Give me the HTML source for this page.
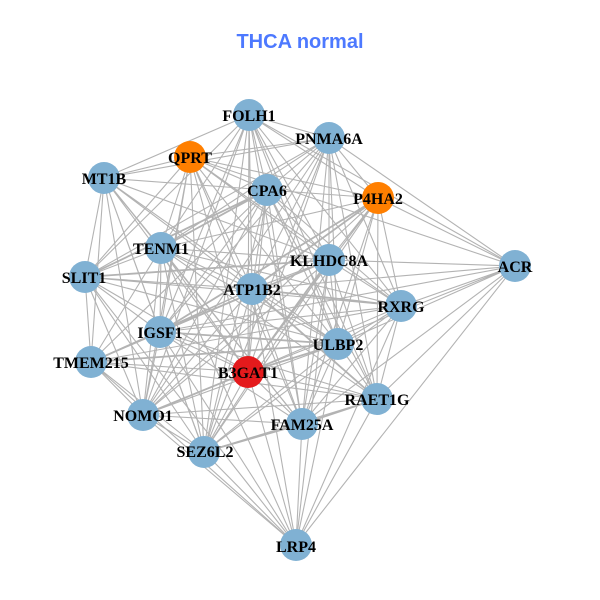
<!DOCTYPE html>
<html><head><meta charset="utf-8"><title>THCA normal</title>
<style>
html,body{margin:0;padding:0;background:#fff}
svg{display:block}
.l{font:bold 16px "Liberation Serif",serif;text-anchor:middle;fill:#000}
</style></head><body>
<svg width="600" height="600" viewBox="0 0 600 600" xmlns="http://www.w3.org/2000/svg">
<rect width="600" height="600" fill="#fff"/>
<text x="300" y="48" text-anchor="middle" style="font:bold 20px 'Liberation Sans',sans-serif;fill:#4d79ff">THCA normal</text>
<g fill="none" stroke="#b3b3b3" stroke-width="1.1">
<path d="M249 115L329 138L249 115L104 178L249 115L267 190L249 115L378 198L249 115L161 248L249 115L329 260L249 115L401 306L249 115L252 289L249 115L160 332L249 115L338 344L249 115L248 372L249 115L377 399L249 115L143 415L249 115L302 424L249 115L204 452L249 115L85 277L249 115L515 266"/>
<path d="M329 138L190 157L329 138L104 178L329 138L267 190L329 138L378 198L329 138L161 248L329 138L329 260L329 138L515 266L329 138L401 306L329 138L252 289L329 138L160 332L329 138L338 344L329 138L248 372L329 138L377 399L329 138L143 415L329 138L302 424L329 138L204 452L329 138L85 277"/>
<path d="M190 157L104 178L190 157L267 190L190 157L378 198L190 157L161 248L190 157L329 260L190 157L401 306L190 157L252 289L190 157L160 332L190 157L338 344L190 157L248 372L190 157L85 277L190 157L143 415L190 157L204 452L190 157L302 424L190 157L515 266"/>
<path d="M104 178L267 190L104 178L161 248L104 178L85 277L104 178L252 289L104 178L329 260L104 178L160 332L104 178L91 362L104 178L248 372L104 178L143 415L104 178L204 452L104 178L338 344L104 178L302 424"/>
<path d="M267 190L378 198L267 190L329 260L267 190L252 289L267 190L401 306L267 190L160 332L267 190L338 344L267 190L91 362L267 190L248 372L267 190L377 399L267 190L143 415L267 190L302 424L267 190L204 452"/>
<path d="M378 198L161 248L378 198L329 260L378 198L515 266L378 198L401 306L378 198L160 332L378 198L338 344L378 198L248 372L378 198L377 399L378 198L302 424L378 198L204 452L378 198L143 415"/>
<path d="M161 248L85 277L161 248L329 260L161 248L252 289L161 248L401 306L161 248L160 332L161 248L338 344L161 248L91 362L161 248L248 372L161 248L377 399L161 248L143 415L161 248L302 424L161 248L204 452L161 248L296 545"/>
<path d="M329 260L515 266L329 260L85 277L329 260L252 289L329 260L401 306L329 260L338 344L329 260L91 362L329 260L377 399L329 260L143 415L329 260L302 424L329 260L204 452L329 260L296 545"/>
<path d="M515 266L252 289L515 266L401 306L515 266L160 332L515 266L338 344L515 266L248 372L515 266L377 399L515 266L302 424L515 266L296 545"/>
<path d="M85 277L252 289L85 277L160 332L85 277L338 344L85 277L91 362L85 277L248 372L85 277L143 415L85 277L204 452L85 277L401 306L85 277L296 545"/>
<path d="M252 289L160 332L252 289L338 344L252 289L91 362L252 289L248 372L252 289L143 415L252 289L302 424L252 289L204 452L252 289L296 545"/>
<path d="M401 306L160 332L401 306L338 344L401 306L91 362L401 306L248 372L401 306L377 399L401 306L302 424L401 306L204 452L401 306L296 545"/>
<path d="M160 332L248 372L160 332L377 399L160 332L143 415L160 332L302 424L160 332L204 452L160 332L296 545"/>
<path d="M338 344L248 372M338 344L377 399L338 344L143 415L338 344L302 424L338 344L204 452L338 344L296 545"/>
<path d="M91 362L248 372L91 362L143 415L91 362L204 452L91 362L377 399L91 362L296 545"/>
<path d="M248 372L377 399L248 372L302 424L248 372L204 452L248 372L296 545"/>
<path d="M377 399L143 415L377 399L204 452L377 399L296 545"/>
<path d="M143 415L302 424L143 415L204 452L143 415L296 545"/>
<path d="M302 424L296 545M204 452L296 545"/>
</g>
<g fill="none" stroke="#b3b3b3" stroke-width="1.8">
<path d="M248 372L143 415M302 424L204 452M302 424L377 399M160 332L329 260M160 332L91 362M248 372L338 344M378 198L252 289M85 277L267 190M401 306L252 289M161 248L267 190M85 277L329 260M91 362L338 344M160 332L338 344M378 198L160 332M329 260L248 372M377 399L252 289"/>
</g>
<g fill="#80b1d3">
<circle cx="249" cy="115" r="16"/><circle cx="329" cy="138" r="16"/><circle cx="104" cy="178" r="16"/>
<circle cx="267" cy="190" r="16"/><circle cx="161" cy="248" r="16"/><circle cx="329" cy="260" r="16"/>
<circle cx="515" cy="266" r="16"/><circle cx="85" cy="277" r="16"/><circle cx="252" cy="289" r="16"/>
<circle cx="401" cy="306" r="16"/><circle cx="160" cy="332" r="16"/><circle cx="338" cy="344" r="16"/>
<circle cx="91" cy="362" r="16"/><circle cx="377" cy="399" r="16"/><circle cx="143" cy="415" r="16"/>
<circle cx="302" cy="424" r="16"/><circle cx="204" cy="452" r="16"/><circle cx="296" cy="545" r="16"/>
</g>
<circle cx="190" cy="157" r="16" fill="#ff7f00"/>
<circle cx="378" cy="198" r="16" fill="#ff7f00"/>
<circle cx="248" cy="372" r="16" fill="#e41a1c"/>
<g class="l">
<text class="l" x="249" y="121">FOLH1</text>
<text class="l" x="329" y="144">PNMA6A</text>
<text class="l" x="190" y="163">QPRT</text>
<text class="l" x="104" y="184">MT1B</text>
<text class="l" x="267" y="196">CPA6</text>
<text class="l" x="378" y="204">P4HA2</text>
<text class="l" x="161" y="254">TENM1</text>
<text class="l" x="329" y="266">KLHDC8A</text>
<text class="l" x="515" y="272">ACR</text>
<text class="l" x="84" y="283">SLIT1</text>
<text class="l" x="252" y="295">ATP1B2</text>
<text class="l" x="401" y="312">RXRG</text>
<text class="l" x="160" y="338">IGSF1</text>
<text class="l" x="338" y="350">ULBP2</text>
<text class="l" x="91" y="368">TMEM215</text>
<text class="l" x="248" y="378">B3GAT1</text>
<text class="l" x="377" y="405">RAET1G</text>
<text class="l" x="143" y="421">NOMO1</text>
<text class="l" x="302" y="430">FAM25A</text>
<text class="l" x="205" y="457">SEZ6L2</text>
<text class="l" x="296" y="552">LRP4</text>
</g>
</svg>
</body></html>
